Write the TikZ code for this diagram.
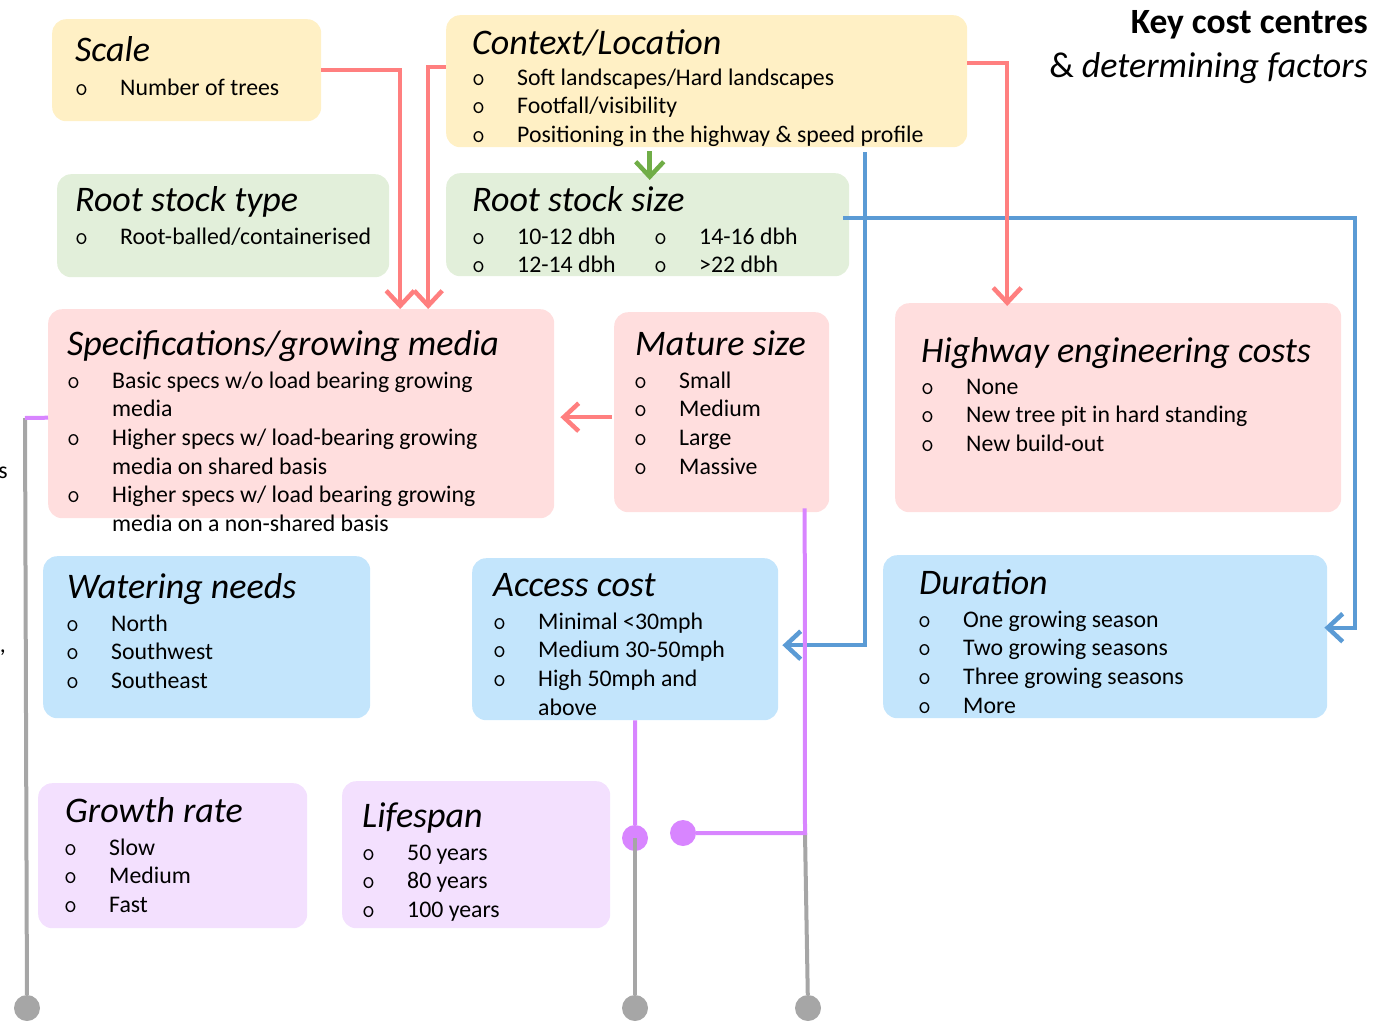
\documentclass[tikz,border=0pt]{standalone}
\usepackage{fontspec}
\setmainfont{Carlito}
\usepackage{tikz}
\usetikzlibrary{arrows.meta, positioning}
\definecolor{boxyellow}{HTML}{FFF0C5}
\definecolor{boxgreen}{HTML}{E2EFDA}
\definecolor{boxpink}{HTML}{FFDEDE}
\definecolor{boxblue}{HTML}{C3E5FC}
\definecolor{boxpurple}{HTML}{F3E0FE}
\definecolor{linered}{HTML}{FF7F7F}
\definecolor{linegreen}{HTML}{70AD47}
\definecolor{lineblue}{HTML}{5B9BD5}
\definecolor{linepurple}{HTML}{D885FF}
\definecolor{linegrey}{HTML}{A6A6A6}
\tikzstyle{box}=[rectangle, rounded corners=14pt, inner sep=0pt, anchor=north west]
\tikzstyle{yellowbox}=[box, fill=boxyellow]
\tikzstyle{greenbox}=[box, fill=boxgreen]
\tikzstyle{pinkbox}=[box, fill=boxpink]
\tikzstyle{bluebox}=[box, fill=boxblue]
\tikzstyle{purplebox}=[box, fill=boxpurple]
\tikzstyle{boxtitle}=[anchor=base west, inner sep=0pt, font=\fontsize{36}{40}\selectfont\itshape]
\tikzstyle{items}=[anchor=base west, inner sep=0pt, font=\fontsize{23.8}{28.7}\selectfont]
\tikzstyle{chevron}=[-{Straight Barb[length=15pt, width=28pt, line width=4.5pt]}]
\tikzstyle{redline}=[draw=linered, line width=4.5pt]
\tikzstyle{greenline}=[draw=linegreen, line width=4.5pt]
\tikzstyle{blueline}=[draw=lineblue, line width=4pt]
\tikzstyle{purpleline}=[draw=linepurple, line width=4pt]
\tikzstyle{greyline}=[draw=linegrey, line width=4pt]
\tikzstyle{purpledot}=[circle, fill=linepurple, minimum size=26pt, inner sep=0pt]
\tikzstyle{greydot}=[circle, fill=linegrey, minimum size=26pt, inner sep=0pt]
\newcommand{\bl}{\makebox[44pt][l]{\hspace*{-1pt}\ttfamily\fontsize{25}{28.7}\selectfont o}}
\newcommand{\cont}{\hspace*{44pt}}
\newcommand{\lst}[1]{\begin{tabular}[t]{@{}l@{}}#1\end{tabular}}

\begin{document}
\begin{tikzpicture}[x=1pt, y=-1pt]
  \useasboundingbox (0,0) rectangle (1374,1023);

  % heading
  \node[anchor=base east, inner sep=0pt, font=\fontsize{35.5}{40}\selectfont\bfseries] (head) at (1368,33) {Key cost centres};
  \node[anchor=base east, inner sep=0pt, font=\fontsize{36}{40}\selectfont] (subhead) at (1368,77) {\& \textit{determining factors}};

  % boxes
  \node[yellowbox, minimum width=269, minimum height=102] (scale) at (52,19) {};
  \node[yellowbox, minimum width=521, minimum height=132] (context) at (446,15) {};
  \node[greenbox, minimum width=332, minimum height=103] (rtype) at (57,174) {};
  \node[greenbox, minimum width=403, minimum height=103] (rsize) at (446,173) {};
  \node[pinkbox, minimum width=506, minimum height=209] (spec) at (48,309) {};
  \node[pinkbox, minimum width=215, minimum height=200] (mature) at (614,312) {};
  \node[pinkbox, minimum width=446, minimum height=209] (highway) at (895,303) {};
  \node[bluebox, minimum width=327, minimum height=162] (water) at (43,556) {};
  \node[bluebox, minimum width=306, minimum height=162] (access) at (472,558) {};
  \node[bluebox, minimum width=444, minimum height=163] (duration) at (883,555) {};
  \node[purplebox, minimum width=269, minimum height=145] (growth) at (38,783) {};
  \node[purplebox, minimum width=268, minimum height=147] (life) at (342,781) {};

  % titles and lists
  \node[boxtitle] (scaleT) at (75,61) {Scale};
  \node[items] (scaleL) at (76,95) {\lst{\bl Number of trees}};
  \node[boxtitle] (contextT) at (472,54) {Context/Location};
  \node[items] (contextL) at (473,85) {\lst{\bl Soft landscapes/Hard landscapes\\ \bl Footfall/visibility\\ \bl Positioning in the highway \& speed profile}};
  \node[boxtitle] (rtypeT) at (75,211) {Root stock type};
  \node[items] (rtypeL) at (76,244) {\lst{\bl Root-balled/containerised}};
  \node[boxtitle] (rsizeT) at (472,211) {Root stock size};
  \node[items] (rsizeL) at (473,244) {\lst{\bl 10-12 dbh\\ \bl 12-14 dbh}};
  \node[items] (rsizeR) at (655,244) {\lst{\bl 14-16 dbh\\ \bl >22 dbh}};
  \node[boxtitle] (specT) at (67,355) {Specifications/growing media};
  \node[items] (specL) at (68,388) {\lst{\bl Basic specs w/o load bearing growing\\ \cont media\\ \bl Higher specs w/ load-bearing growing\\ \cont media on shared basis\\ \bl Higher specs w/ load bearing growing\\ \cont media on a non-shared basis}};
  \node[boxtitle] (matureT) at (635,355) {Mature size};
  \node[items] (matureL) at (635,388) {\lst{\bl Small\\ \bl Medium\\ \bl Large\\ \bl Massive}};
  \node[boxtitle] (highwayT) at (921,362) {Highway engineering costs};
  \node[items] (highwayL) at (922,394) {\lst{\bl None\\ \bl New tree pit in hard standing\\ \bl New build-out}};
  \node[boxtitle] (waterT) at (67,598) {Watering needs};
  \node[items] (waterL) at (67,631) {\lst{\bl North\\ \bl Southwest\\ \bl Southeast}};
  \node[boxtitle] (accessT) at (493,596) {Access cost};
  \node[items] (accessL) at (494,629) {\lst{\bl Minimal <30mph\\ \bl Medium 30-50mph\\ \bl High 50mph and\\ \cont above}};
  \node[boxtitle] (durationT) at (919,594) {Duration};
  \node[items] (durationL) at (919,627) {\lst{\bl One growing season\\ \bl Two growing seasons\\ \bl Three growing seasons\\ \bl More}};
  \node[boxtitle] (growthT) at (65,822) {Growth rate};
  \node[items] (growthL) at (65,855) {\lst{\bl Slow\\ \bl Medium\\ \bl Fast}};
  \node[boxtitle] (lifeT) at (362,827) {Lifespan};
  \node[items] (lifeL) at (363,860) {\lst{\bl 50 years\\ \bl 80 years\\ \bl 100 years}};

  % cut-off text on the left edge
  \node[items, anchor=base east] (cutS) at (8,478) {s};
  \node[items, anchor=base east] (cutC) at (6,652) {,};

  % blue connectors
  \draw[blueline, chevron] ([xshift=-6pt, yshift=7pt]rsize.east) -| ([xshift=28pt, yshift=9pt]duration.east) -- ([xshift=-3pt, yshift=9pt]duration.east);
  \draw[blueline, chevron] ([xshift=158pt, yshift=-5pt]context.south) |- ([xshift=4pt, yshift=-6pt]access.east);

  % red connectors
  \draw[redline, chevron] (scale.east) -| ([xshift=99pt]spec.north);
  \draw[redline, chevron] ([yshift=14pt]context.west) -| ([xshift=127pt]spec.north);
  \draw[redline, chevron] ([yshift=18pt]context.east) -| ([xshift=-111pt, yshift=-3pt]highway.north);
  \draw[redline, chevron] ([xshift=-2pt, yshift=-5pt]mature.west) -- ([xshift=6pt, yshift=-5pt]mature.west -| spec.east);

  % green connector
  \draw[greenline, chevron] ([xshift=-57pt, yshift=-4pt]context.south) -- ([xshift=-57pt, yshift=-7pt]context.south |- rsize.north);

  % purple and grey connectors
  \coordinate (specfoot) at (25,418);
  \coordinate (maturefoot) at (805,833);
  \node[purpledot] (pdotA) at (635,838) {};
  \node[purpledot] (pdotB) at (683,833) {};
  \node[greydot] (gdotA) at (27,1008) {};
  \node[greydot] (gdotB) at (635,1008) {};
  \node[greydot] (gdotC) at (808,1008) {};
  \draw[greyline] (specfoot) -- (gdotA);
  \draw[greyline] (pdotA.center) -- (gdotB);
  \draw[greyline] (maturefoot) -- (gdotC);
  \draw[purpleline] ([yshift=-4pt]spec.west) -- (specfoot);
  \draw[purpleline] ([xshift=10pt]access.south) -- (pdotA);
  \draw[purpleline] ([xshift=83pt, yshift=4pt]mature.south) -- (maturefoot) -- (pdotB);
\end{tikzpicture}
\end{document}
